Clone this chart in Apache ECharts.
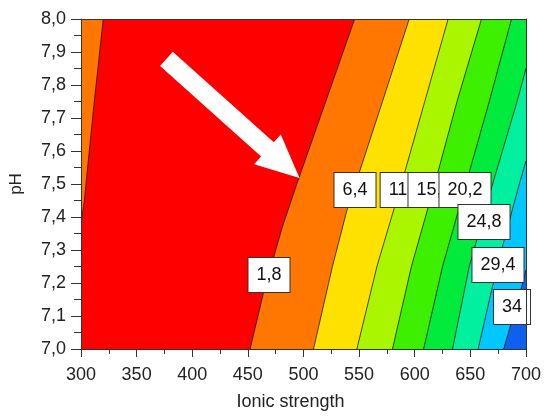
<!DOCTYPE html>
<html>
<head>
<meta charset="utf-8">
<script src="https://cdn.jsdelivr.net/npm/echarts@6/dist/echarts.min.js"></script>
<style>
  html, body { margin: 0; padding: 0; background: #fff; }
  #chart { width: 544px; height: 416px; }
</style>
</head>
<body>
<div id="chart"></div>
<script>
// Contour plot: pH vs ionic strength

// contour levels and their label text
const levels = [1.8, 6.4, 11, 15.6, 20.2, 24.8, 29.4, 34];
const labelText = ['1,8', '6,4', '11', '15,6', '20,2', '24,8', '29,4', '34'];
// where each label box sits [ionic strength, pH]
const labelIonic = [469, 546, 585, 617, 645, 662, 675, 687];
const labelPH = [7.225, 7.483, 7.483, 7.483, 7.483, 7.386, 7.256, 7.128];

// contour lines, as [ionic strength, pH]
const line18Left = [[300, 7.38], [303, 7.45], [311, 7.72], [320, 8.0]];
const line18 = [[452, 7.0], [464, 7.17], [481, 7.37], [494, 7.5], [520, 7.75], [546, 8.0]];
const line64 = [[509, 7.0], [526, 7.25], [539, 7.42], [571, 7.75], [595, 8.0]];
const line11 = [[548, 7.0], [566, 7.25], [588, 7.5], [609, 7.75], [630, 8.0]];
const line156 = [[580, 7.0], [597, 7.25], [618, 7.5], [638, 7.75], [660, 8.0]];
const line202 = [[608, 7.0], [625, 7.25], [646, 7.5], [667, 7.75], [687, 8.0]];
const line248 = [[634, 7.0], [649, 7.25], [670, 7.5], [692, 7.75], [700, 7.85]];
const line294 = [[657, 7.0], [674, 7.25], [694, 7.5], [700, 7.57]];
const line34 = [[680, 7.0], [697, 7.2], [700, 7.24]];

const contourLines = [line18Left, line18, line64, line11, line156, line202, line248, line294, line34];
// which side of the line holds the higher values
const highSide = ['left', 'right', 'right', 'right', 'right', 'right', 'right', 'right', 'right'];

// arrow annotation [ionic strength, pH]
const arrowTail = [376.8, 7.879];
const arrowTip = [496.4, 7.518];

const xTicks = { min: 300, max: 700, step: 50 };
const yTicks = { min: 7.0, max: 8.0, step: 0.1 };

const lowColor = '#ff0000';
const fillColors = ['#ff7700', '#ff7700', '#ffe100', '#aaf500', '#3cf000', '#00eb3c', '#00f0a0', '#00c8ff', '#1060f0'];

const font = 'Arial, "Liberation Sans", sans-serif';

const chart = echarts.init(document.getElementById('chart'));

function renderBand(params, api) {
    const i = params.dataIndex;
    const pts = contourLines[i];
    const last = pts[pts.length - 1];
    let poly;
    if (highSide[i] === 'left') {
        poly = pts.concat([[xTicks.min, yTicks.max]]);
    } else {
        poly = pts.concat([[xTicks.max, last[1]], [xTicks.max, yTicks.min]]);
    }
    return {
        type: 'group',
        children: [
            {
                type: 'polygon',
                shape: { points: poly.map(p => api.coord(p)) },
                style: { fill: fillColors[i], stroke: null }
            },
            {
                type: 'polyline',
                shape: { points: pts.map(p => api.coord(p)) },
                style: { fill: null, stroke: '#1a1a1a', lineWidth: 0.8 }
            }
        ]
    };
}

function renderLabel(params, api) {
    const p = api.coord([api.value(0), api.value(1)]);
    return {
        type: 'text',
        x: Math.round(p[0]),
        y: Math.round(p[1]),
        style: {
            text: labelText[params.dataIndex],
            fontSize: 18,
            fontFamily: font,
            fill: '#111',
            align: 'center',
            verticalAlign: 'middle',
            lineHeight: 18,
            backgroundColor: '#fff',
            borderColor: '#333',
            borderWidth: 1,
            padding: [8, 8, 8, 8]
        }
    };
}

function renderArrow(params, api) {
    const p0 = api.coord(arrowTail);
    const p1 = api.coord(arrowTip);
    const dx = p1[0] - p0[0], dy = p1[1] - p0[1];
    const len = Math.sqrt(dx * dx + dy * dy);
    const ux = dx / len, uy = dy / len;
    const nx = -uy, ny = ux;
    const w = 9.5, hw = 20, hl = 43;
    const bx = p1[0] - ux * hl, by = p1[1] - uy * hl;
    return {
        type: 'polygon',
        shape: {
            points: [
                [p0[0] + nx * w, p0[1] + ny * w],
                [bx + nx * w, by + ny * w],
                [bx + nx * hw, by + ny * hw],
                p1,
                [bx - nx * hw, by - ny * hw],
                [bx - nx * w, by - ny * w],
                [p0[0] - nx * w, p0[1] - ny * w]
            ]
        },
        style: { fill: '#fff' }
    };
}

const axisText = { color: '#222', fontSize: 18, fontFamily: font };

const option = {
    animation: false,
    grid: {
        left: 79, right: 17, top: 19, bottom: 66,
        show: true, backgroundColor: lowColor, borderWidth: 0
    },
    xAxis: [
        {
            type: 'value',
            min: xTicks.min, max: xTicks.max, interval: xTicks.step,
            z: 10,
            name: 'Ionic strength',
            nameLocation: 'middle',
            nameGap: 44,
            nameTextStyle: { color: '#222', fontSize: 18, fontFamily: font, padding: [0, 26, 0, 0] },
            axisLine: { show: true, lineStyle: { color: '#333', width: 1 } },
            axisTick: { show: true, inside: false, length: 8, lineStyle: { color: '#333' } },
            minorTick: { show: true, splitNumber: 2, length: 5, lineStyle: { color: '#333' } },
            axisLabel: Object.assign({ margin: 17 }, axisText),
            splitLine: { show: false }
        },
        {
            type: 'value', position: 'top',
            min: xTicks.min, max: xTicks.max, z: 10,
            axisLine: { show: true, lineStyle: { color: '#333', width: 1 } },
            axisTick: { show: false }, axisLabel: { show: false }, splitLine: { show: false }
        }
    ],
    yAxis: [
        {
            type: 'value',
            min: yTicks.min, max: yTicks.max, interval: yTicks.step,
            z: 10,
            name: 'pH',
            nameLocation: 'middle',
            nameGap: 56,
            nameTextStyle: { color: '#222', fontSize: 17, fontFamily: font },
            axisLine: { show: true, lineStyle: { color: '#333', width: 1 } },
            axisTick: { show: true, inside: false, length: 10, lineStyle: { color: '#333' } },
            minorTick: { show: true, splitNumber: 2, length: 7, lineStyle: { color: '#333' } },
            axisLabel: Object.assign({
                margin: 15,
                formatter: v => v.toFixed(1).replace('.', ',')
            }, axisText),
            splitLine: { show: false }
        },
        {
            type: 'value', position: 'right',
            min: yTicks.min, max: yTicks.max, z: 10,
            axisLine: { show: true, lineStyle: { color: '#333', width: 1 } },
            axisTick: { show: false }, axisLabel: { show: false }, splitLine: { show: false }
        }
    ],
    series: [
        {
            name: 'bands',
            type: 'custom',
            renderItem: renderBand,
            clip: true,
            z: 2,
            data: contourLines.map((l, i) => [i])
        },
        {
            name: 'arrow',
            type: 'custom',
            renderItem: renderArrow,
            z: 3,
            data: [[arrowTip[0], arrowTip[1]]]
        },
        {
            name: 'labels',
            type: 'custom',
            renderItem: renderLabel,
            z: 4,
            data: labelIonic.map((x, i) => [x, labelPH[i], levels[i]])
        }
    ]
};

chart.setOption(option);
</script>
</body>
</html>
